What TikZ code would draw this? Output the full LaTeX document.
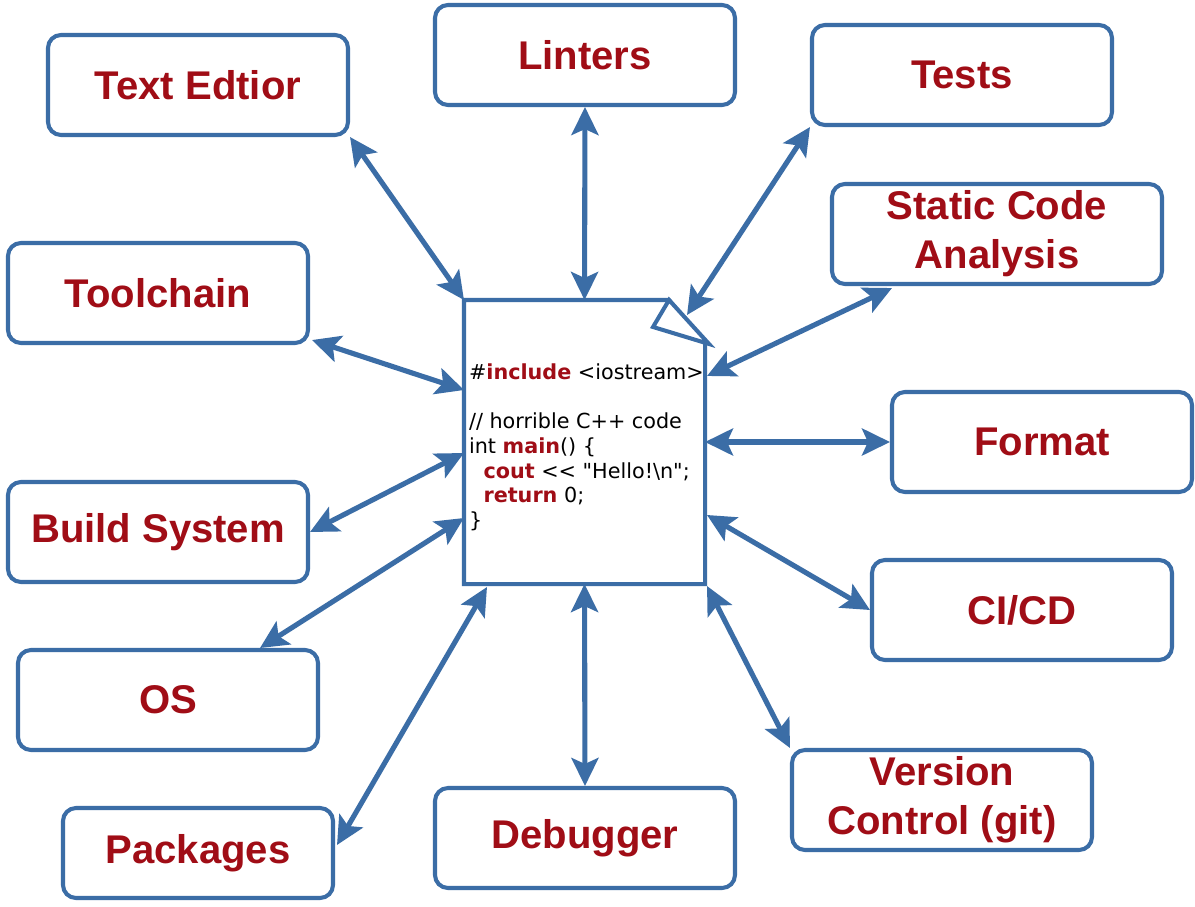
\documentclass[tikz,border=0pt]{standalone}
\usepackage{fontspec}
\setmainfont{Liberation Sans}
\newfontfamily\codefont{DejaVu Sans}
\usetikzlibrary{arrows.meta, calc}
\definecolor{cblue}{HTML}{3B6DA6}
\definecolor{cred}{HTML}{A00D16}
\tikzset{
  every picture/.style={line width=2.3pt},
  box/.style={draw=cblue, fill=white, rounded corners=2.6mm, align=center, minimum width=6cm, minimum height=2cm, text=cred, font=\bfseries\fontsize{22.8}{28}\selectfont},
  arrow/.style={{Stealth[length=5.6mm, width=5.4mm, inset=1.2mm]}-{Stealth[length=5.6mm, width=5.4mm, inset=1.2mm]}, draw=cblue, line width=2.9pt},
  docline/.style={draw=cblue, fill=white, line join=miter},
  code/.style={font=\codefont\fontsize{11.8}{14}\selectfont, align=left, inner sep=0pt, anchor=north west},
}
\newcommand{\kw}[1]{\textcolor{cred}{\textbf{#1}}}

\begin{document}
\begin{tikzpicture}[x=0.2mm, y=-0.2mm]
  \useasboundingbox[fill=white] (0,0) rectangle (1195,906);
  % the source file
  \node[minimum width=4.74cm, minimum height=5.6cm, inner sep=0pt] (doc) at (584.5,442) {};
  \draw[docline] (doc.south west) -- (doc.north west) -- ($(doc.north east)+(-36,0)$) -- ($(doc.north east)+(0,43)$) -- (doc.south east) -- cycle;
  \draw[docline] ($(doc.north east)+(-36,0)$) -- ($(doc.north east)+(-52,27)$) -- ($(doc.north east)+(4,44)$) -- cycle;
  \node[code] (code) at (467,362) {\#\kw{include} <iostream>\\ \mbox{}\\ // horrible C++ code\\ int \kw{main}() \{\\ \hspace*{0.7em}\kw{cout} <{}< "Hello!\textbackslash n";\\ \hspace*{0.7em}\kw{return} 0;\\ \}};
  % tools around it
  \node[box] (ted) at (198,85) {Text Edtior};
  \node[box] (lint) at (585,55) {Linters};
  \node[box] (tests) at (962,75) {Tests};
  \node[box, minimum width=6.6cm] (sca) at (997,234) {Static Code\\ Analysis};
  \node[box] (tool) at (158,293) {Toolchain};
  \node[box] (fmt) at (1042,442) {Format};
  \node[box] (build) at (158,532) {Build System};
  \node[box] (cicd) at (1022,610) {CI/CD};
  \node[box] (os) at (168,700) {OS};
  \node[box] (vcs) at (942,800) {Version\\ Control (git)};
  \node[box, minimum width=5.4cm, minimum height=1.8cm] (pkg) at (198,853) {Packages};
  \node[box] (dbg) at (585,838) {Debugger};
  % connections
  \draw[arrow] (ted.south east) -- (doc.north west);
  \draw[arrow] (lint.south) -- (doc.north);
  \draw[arrow] (tests.south west) -- ($(doc.north east)+(-18,15)$);
  \draw[arrow] ($(sca.south west)+(62,2)$) -- ($(doc.north east)+(2,76)$);
  \draw[arrow] ($(tool.south east)+(2,-5)$) -- ($(doc.west)+(0,-52)$);
  \draw[arrow] (doc.east) -- (fmt.west);
  \draw[arrow] (build.east) -- ($(doc.west)+(0,11)$);
  \draw[arrow] ($(doc.east)+(2,73)$) -- (cicd.west);
  \draw[arrow] ($(os.north)+(92,0)$) -- ($(doc.west)+(0,76)$);
  \draw[arrow] ($(doc.south east)+(2,2)$) -- (vcs.north west);
  \draw[arrow] ($(pkg.east)+(2,-8)$) -- ($(doc.south west)+(23,3)$);
  \draw[arrow] (doc.south) -- (dbg.north);
\end{tikzpicture}
\end{document}
